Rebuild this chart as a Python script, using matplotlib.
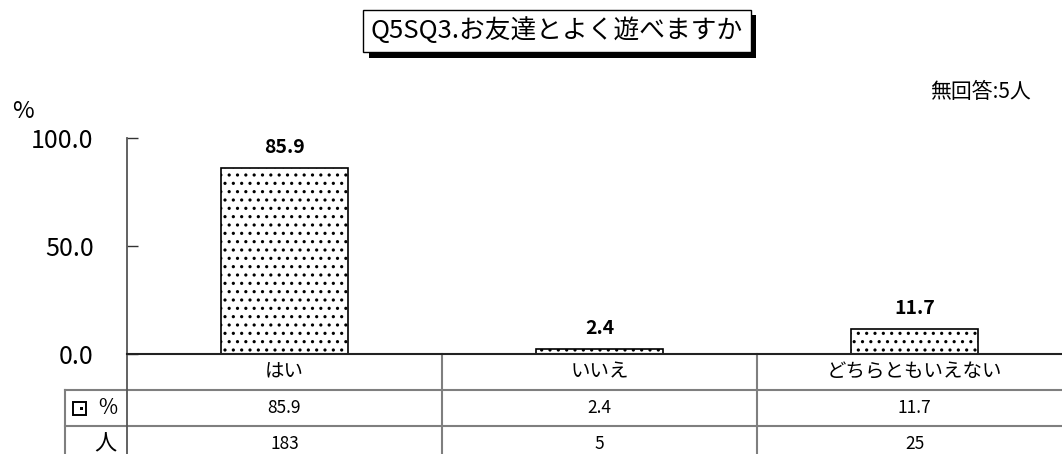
import matplotlib
matplotlib.use("Agg")
import matplotlib.pyplot as plt
import matplotlib.patheffects as pe
import numpy as np
from matplotlib.patches import Rectangle

plt.rcParams['font.family'] = ['Noto Sans CJK JP', 'DejaVu Sans']
plt.rcParams['hatch.linewidth'] = 1.1
plt.rcParams['hatch.color'] = 'black'

title = "Q5SQ3.お友達とよく遊べますか"
note = "無回答:5人"
categories = ["はい", "いいえ", "どちらともいえない"]
percents = [85.9, 2.4, 11.7]
counts = [183, 5, 25]
yticks = [0.0, 50.0, 100.0]

W, H = 1062, 454
fig = plt.figure(figsize=(W / 100, H / 100), dpi=100)

ax_l, ax_r, ax_t, ax_b = 127, 1072, 138, 354
ax = fig.add_axes([ax_l / W, (H - ax_b) / H, (ax_r - ax_l) / W, (ax_b - ax_t) / H])
ax.set_xlim(-0.5, len(categories) - 0.5)
ax.set_ylim(0, 100)
x = np.arange(len(categories))
ax.bar(x, percents, width=0.405, color='white', edgecolor='black',
       linewidth=1.2, hatch='..', zorder=3)
for xi, v in zip(x, percents):
    ax.annotate(f"{v:.1f}", (xi, v), xytext=(0, 8), textcoords='offset points',
                ha='center', va='bottom', fontsize=14, fontweight='bold')

for s in ['top', 'right', 'bottom', 'left']:
    ax.spines[s].set_visible(False)
ax.set_xticks([])
ax.set_yticks(yticks)
ax.set_yticklabels([f"{t:.1f}" for t in yticks], fontsize=18)
ax.tick_params(axis='y', direction='in', length=8, width=1, color='#333333', pad=24)

axh = ax_b - ax_t
def fy(px):
    return (ax_b - px) / axh
def fx(px):
    return (px - ax_l) / (ax_r - ax_l)

lc = '#7f7f7f'
ax.plot([0, 0], [fy(454), 1], transform=ax.transAxes, color='#555555', lw=1.3, clip_on=False, zorder=4)
ax.plot([0, 1], [0, 0], transform=ax.transAxes, color='#222222', lw=1.5, clip_on=False, zorder=4)
for py in [390, 426]:
    ax.plot([fx(65), 1], [fy(py), fy(py)], transform=ax.transAxes, color=lc, lw=1.5, clip_on=False)
ax.plot([fx(65), fx(65)], [fy(390), fy(454)], transform=ax.transAxes, color=lc, lw=1.5, clip_on=False)
trans = matplotlib.transforms.blended_transform_factory(ax.transData, ax.transAxes)
for b in np.arange(0.5, len(categories) - 0.5, 1.0):
    ax.plot([b, b], [fy(454), 0], transform=trans, color=lc, lw=1.5, clip_on=False)

for xi, c, p, n in zip(x, categories, percents, counts):
    ax.text(xi, fy(372), c, transform=trans, ha='center', va='center', fontsize=14)
    ax.text(xi, fy(408), f"{p:.1f}", transform=trans, ha='center', va='center', fontsize=12.5)
    ax.text(xi, fy(444), f"{n}", transform=trans, ha='center', va='center', fontsize=12.5)

fig.text(117 / W, 1 - 408 / H, "%", ha='right', va='center', fontsize=15)
fig.text(117 / W, 1 - 444 / H, "人", ha='right', va='center', fontsize=16)
sw = Rectangle((73 / W, 1 - 415 / H), 13 / W, 13 / H, transform=fig.transFigure,
               facecolor='white', edgecolor='black', lw=1.4)
fig.patches.append(sw)
dot = Rectangle((80 / W, 1 - 410 / H), 3 / W, 3 / H, transform=fig.transFigure,
                facecolor='black', edgecolor='none')
fig.patches.append(dot)

fig.text(12 / W, 1 - 111 / H, "%", ha='left', va='center', fontsize=17)

fig.text(1031 / W, 1 - 92 / H, note, ha='right', va='center', fontsize=15)

t = fig.text(557 / W, 1 - 31 / H, title, ha='center', va='center', fontsize=18.5,
             bbox=dict(boxstyle='square,pad=0.3', facecolor='white', edgecolor='black', lw=1.0))
t.get_bbox_patch().set_path_effects([
    pe.SimplePatchShadow(offset=(4, -4), shadow_rgbFace='black', alpha=1.0),
    pe.Normal()])

fig.savefig("out.png", dpi=100)
